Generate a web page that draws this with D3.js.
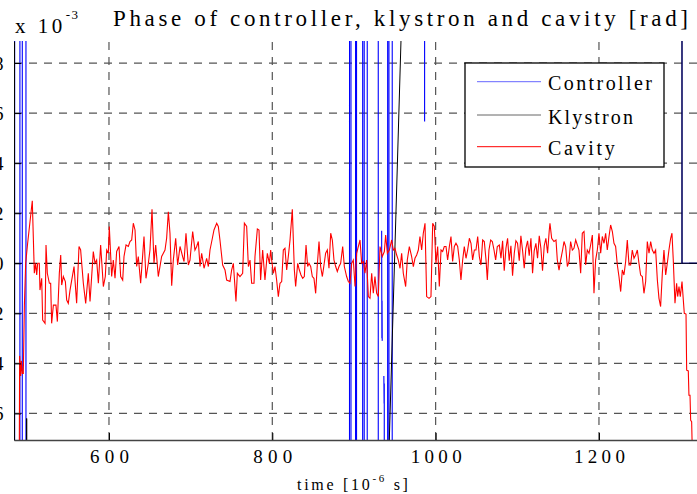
<!DOCTYPE html>
<html><head><meta charset="utf-8">
<script src="https://cdn.jsdelivr.net/npm/d3@7"></script>
<style>
body{margin:0;background:#fff}
svg{display:block;background:#fff}
text{font-family:"Liberation Serif","DejaVu Serif","Times New Roman",serif;fill:#000}
</style>
</head><body><div id="chart"></div>
<script>
// ---------- data (time in 1e-6 s, phase in 1e-3 rad) ----------
const xTicks = [600, 800, 1000, 1200];
const yTicks = [-6, -4, -2, 0, 2, 4, 6, 8];
const titleText = "Phase of controller, klystron and cavity [rad]";
const seriesNames = ["Controller", "Klystron", "Cavity"];
const seriesColors = ["#0000ff", "#000000", "#ff0000"];

const controller = [[483.5,50],[483.7,-50],[484.4,-50],[484.6,50],[490.9,50],[491.0,-50],[493.8,-50],[493.9,50],[498.3,50],[498.4,-50],
[894.5,-50],[894.6,50],[896.3,50],[896.4,-50],[901.9,-50],[902.0,50],[903.1,50],[903.2,-50],[910.6,-50],[910.7,50],[912.5,50],[912.6,-50],
[916.2,-50],[916.3,50],[929.7,50],[929.8,-50],[930.0,null],[933.9,1.3],[934.2,-3.0],[934.4,-1.5],[934.6,-3.1],[935.0,null],
[936.6,-4.5],[936.9,-5.6],[937.1,-4.8],[937.4,-50],[941.2,-50],[941.3,50],[942.8,50],[942.9,-50],[946.8,-50],[946.9,50],
[986.4,50],[986.5,5.66],[986.6,50],[1301.6,50],[1301.7,0],[1400,0]];

const klystron = [[483.7,-50],[499.0,-50],[499.2,-6.2],[499.4,-50],[935.0,-16.3],[966.0,18.3],[1301.6,50],[1301.7,0],[1400,0]];

const cavity = [[490.2,-7.5],[490.6,-3.7],[491.9,-4.5],[492.7,-3.9],[493.9,-4.4],[495.1,-4.4],[496.4,-1.7],[498.0,0.0],[500.4,0.8],[506.1,2.5],[508.6,-0.4],[510.2,0],
[511.5,-0.47],[512.7,0],[514.7,0],[515.5,-1.07],[517.6,-0.6],[518.8,-2.27],[521.7,-2.4],[522.9,0.73],[524.5,-0.4],[527.0,-0.8],[528.6,-0.8],[529.8,-2.4],[531.9,-1.67],[535.1,-1.67],[536.8,-2.33],[539.2,-0.4],[540.9,0.33],[542.1,-0.87],[544.1,-0.53],[546.6,-0.73],[548.2,-1.47],[550.2,-1.6],[552.3,-1.07],[557.2,-0.13],[560.4,-1.6],[563.3,0.67],[565.3,0.53],[568.6,-0.8],[571.5,-1.6],[574.7,-0.4],[576.8,-1.53],[580.8,0.47],[582.9,0],[584.9,0.13],[587.0,-0.8],[589.8,0.73],[593.1,-0.93],[595.5,-0.53],[597.2,0.53],[599.2,0.4],[600.4,1.47],[603.3,-0.53],[605.3,0.13],[607.4,-0.6],[609.4,0.47],[612.3,0.67],[614.3,-0.53],[616.8,-0.67],[618.4,0.27],[620.9,0.73],[623.7,0.67],[625.7,0.87],[627.8,0.93],[629.8,1.6],[631.9,1.33],[633.9,-0.13],[635.9,0.27],[638.8,-0.8],[642.9,1.07],[645.3,-0.6],[648.2,0],[650.2,0.53],[652.7,2.16],[655.1,0],[657.2,0.73],[660.4,-0.53],[664.5,0.27],[668.6,0.53],[670.6,1.0],[672.7,2.06],[674.7,1.2],[676.8,-0.9],[678.8,0.13],[681.7,1.0],[684.1,-0.07],[687.0,0.67],[690.2,0.27],[691.9,0.07],[694.3,1.2],[697.2,-0.07],[699.2,0.13],[702.5,1.27],[705.3,0.53],[707.4,0.67],[709.4,0.87],[711.5,-0.13],[713.5,0.4],[716.4,-0.2],[719.6,0.2],[721.7,-0.13],[723.7,0.53],[726.6,1.0],[728.6,1.33],[731.9,1.6],[733.9,1.47],[735.9,0.93],[739.2,-0.07],[742.1,-0.27],[744.1,-0.67],[748.2,-0.73],[750.2,-0.27],[752.3,0],[755.5,-1.53],[757.2,-0.4],[760.4,-0.53],[763.7,-0.4],[765.8,1.6],[768.6,1.47],[770.7,-0.13],
[772.7,0.13],[774.7,-0.8],[777.6,-0.8],[778.8,0.27],[781.7,1.37],[783.7,1.33],[785.7,-0.67],[788.2,0.53],[791.0,-0.67],[793.9,0.4],[796.4,0],[798.0,0.53],[799.2,0.13],[801.3,-0.4],[803.3,-0.13],[805.3,-0.67],[807.4,-1.33],[809.4,-0.8],[811.5,-0.73],[813.5,0.53],[815.5,0.6],[817.6,-0.27],[819.6,0.27],[821.7,0.93],[824.5,2.16],[827.0,-0.27],[828.6,-0.93],[831.1,0],[833.1,-0.27],[835.1,-0.47],[837.2,-0.6],[839.2,-0.53],[841.3,0.73],[843.3,-0.13],[844.9,0],[847.0,-0.13],[849.0,-0.53],[851.0,-0.6],[853.1,-1.2],[855.1,-0.07],[857.2,0.87],[859.2,-0.13],[861.3,-0.53],[863.3,-0.07],[865.3,0.4],[867.4,0.53],[869.4,-0.2],[871.5,1.2],[873.5,0.93],[875.5,0.13],[877.6,-0.13],[879.6,-0.33],[881.7,-0.13],[883.7,0],[886.2,0.67],[888.2,-0.13],[891.0,-0.53],[893.1,-0.73],[895.1,-0.8],[897.2,0],[899.2,0.13],[901.3,-0.93],[903.3,0.4],[905.3,0.67],[907.4,0.93],[909.4,0],[911.5,0.07],[913.5,-0.4],[915.5,0.13],[917.6,-1.33],[919.6,-1.4],[921.7,-0.4],[923.7,-1.2],[925.7,-0.53],[927.8,-1.2],[929.8,-1.33],[931.9,0.67],[934.7,0.27],[937.2,0.47],[938.8,1.13],[940.9,0.4],[943.3,0.53],[946.2,0.93],[948.2,0.53],[950.2,0.6],[952.3,0.33],[954.3,0.13],[956.4,-0.2],[958.4,0.4],[960.4,-0.4],[963.3,-0.93],[965.3,0.13],[967.8,0.67],[970.6,0.27],[972.7,-0.13],[974.7,0.2],[976.8,0.33],[978.8,0.53],[980.8,1.07],[982.9,0.53],[984.9,1.2],[987.0,1.6],[989.0,-1.33],[991.9,-1.4],[994.3,-1.33],[996.4,1.6],[998.4,1.47],[1000.4,0],[1002.5,0.67],[1004.5,-0.93],[1006.6,0.53],[1008.6,0.47],[1010.6,0.67],[1012.7,0.67],[1014.7,0.13],[1016.8,0.67],[1018.8,1.07],[1020.8,0.07],[1022.9,0.67],[1024.9,0.8],[1027.0,0.67],[1029.0,0.13],[1031.0,-0.67],[1033.1,0.13],[1035.1,0.67],[1037.2,0.2],[1039.2,0.53],[1041.3,1.0],[1043.3,0.8],[1045.3,0.13],[1047.4,0.53],[1049.4,0.53],[1051.5,1.07],[1053.5,0.27],[1055.5,-0.07],[1057.6,0.93],[1059.6,0.87],[1061.7,0.13],[1063.3,-0.67],[1065.3,0.53],[1067.4,0.93],[1069.4,0.87],[1071.5,0.53],[1073.5,0.13],[1075.5,0.67],[1078.0,0.73],
[1080.0,0.2],[1082.0,0.9],[1084.0,-0.3],[1086.1,0.6],[1088.1,1.0],[1090.1,0.1],[1092.2,0.7],[1094.2,-0.5],[1096.3,0.4],[1098.3,0.9],[1100.3,0.8],[1102.4,0.1],[1104.4,1.1],[1106.5,0.5],[1108.5,-0.2],[1110.5,0.6],[1112.6,0.9],[1114.6,0.3],[1116.7,1.0],[1118.7,-0.4],[1120.7,0.5],[1122.8,0.8],[1124.8,0.2],[1126.9,1.1],[1128.9,0.6],[1130.9,-0.3],[1133.0,0.7],[1135.0,1.0],[1137.1,0.4],[1139.1,1.3],
[1140.0,1.6],[1142.1,1.0],[1144.9,0.87],[1147.4,0.93],[1149.0,0.13],[1151.1,-0.27],[1153.1,0.13],[1155.5,0.53],[1157.2,0.87],[1159.2,0.67],[1161.3,-0.13],[1163.3,0.07],[1165.3,0.87],[1167.4,0.53],[1169.4,0.6],[1171.5,0.93],[1173.5,0.73],[1175.5,0.53],[1177.6,-0.4],[1179.6,1.2],[1181.7,1.27],[1183.7,-0.07],[1185.7,0.53],[1187.8,0.4],[1189.8,0.73],[1191.9,1.13],[1193.9,-1.2],[1195.9,0.13],[1198.0,0.53],[1200.0,1.2],[1202.1,0.4],[1204.1,1.07],[1206.2,0.8],[1208.2,1.2],[1210.2,0.53],[1212.3,1.07],[1214.3,1.53],[1216.4,1.27],[1218.4,0.8],[1220.4,0.67],[1222.5,-0.07],[1224.5,-0.53],[1226.6,-1.13],[1228.6,-0.27],[1230.6,-0.47],[1232.7,0.07],[1234.7,0.93],[1236.8,-0.07],[1238.8,-0.07],[1240.8,0.53],[1242.9,0.2],[1244.9,0.33],[1247.0,0.53],[1249.0,0],[1251.0,-0.47],[1253.1,-0.53],[1255.1,-1.2],[1257.2,-0.73],[1259.2,0.87],[1261.3,0.4],[1263.3,0.87],[1265.3,0.53],[1267.4,0.4],[1269.4,0.53],[1271.5,-0.67],[1273.5,-1.4],[1275.5,-1.73],[1277.6,-0.4],[1279.6,0.53],[1281.7,-0.47],[1283.7,0],[1285.7,0.53],[1287.8,1.0],[1289.4,1.2],[1291.0,0.13],[1293.1,-1.6],[1295.1,-0.8],[1296.4,-1.33],[1298.0,-0.93],[1299.6,-1.33],[1301.7,-0.73],[1303.3,-1.47],[1304.5,-2.0],[1306.6,-2.03],[1307.4,-4.27],[1309.4,-4.3],[1310.2,-5.27],[1311.5,-5.27],[1312.3,-6.27],[1313.5,-6.33],[1314.3,-7.5]];

// ---------- layout ----------
const W = 697, H = 494;
const L = 14, R = 760, T = 41, B = 440;
const FONT = '"Liberation Serif","DejaVu Serif",serif';
const svg = d3.select("#chart").append("svg").attr("width", W).attr("height", H);

const x = d3.scaleLinear().domain([483.7, 1397.2]).range([L, R]);
const y = d3.scaleLinear().domain([-7.06, 8.88]).range([B, T]);

svg.append("defs").append("clipPath").attr("id", "plot")
  .append("rect").attr("x", L).attr("y", T).attr("width", R - L).attr("height", B - T);

// grid
const grid = svg.append("g").attr("stroke", "#555").attr("stroke-width", 1.2).attr("stroke-dasharray", "8,7").attr("fill", "none");
grid.selectAll(".gy").data(yTicks).join("line")
  .attr("x1", L).attr("x2", R).attr("y1", d => y(d)).attr("y2", d => y(d))
  .attr("stroke", d => d === 0 ? "#111" : "#555");
grid.selectAll(".gx").data(xTicks).join("line")
  .attr("x1", d => x(d)).attr("x2", d => x(d)).attr("y1", B).attr("y2", T);

// series
const line = d3.line().defined(d => d[1] !== null).x(d => x(d[0])).y(d => y(d[1]));
const plot = svg.append("g").attr("clip-path", "url(#plot)").attr("fill", "none");
[controller, klystron, cavity].forEach((s, i) => {
  plot.append("path").datum(s).attr("d", line)
    .attr("stroke", seriesColors[i]).attr("stroke-width", i === 1 ? 1 : 1.1);
});

// axes
const xAxis = d3.axisBottom(x).tickValues(xTicks).tickFormat(d3.format("d"))
  .tickSize(-7).tickSizeOuter(0).tickPadding(9.5);
const gx = svg.append("g").attr("transform", `translate(0,${B})`).call(xAxis);
gx.attr("font-family", FONT);
gx.select(".domain").attr("stroke", "#444").attr("stroke-width", 1.6);
gx.selectAll(".tick line").attr("stroke", "#000");
gx.selectAll(".tick text").attr("font-size", 19).attr("font-family", FONT)
  .attr("textLength", d => d >= 1000 ? 51 : 39).attr("lengthAdjust", "spacing");

const yAxis = d3.axisLeft(y).tickValues(yTicks).tickFormat(d3.format("d"))
  .tickSize(-7).tickSizeOuter(0).tickPadding(10.5);
const gy = svg.append("g").attr("transform", `translate(${L},0)`).call(yAxis);
gy.attr("font-family", FONT);
gy.select(".domain").attr("stroke", "#000").attr("stroke-width", 1);
gy.selectAll(".tick line").attr("stroke", "#000");
gy.selectAll(".tick text").attr("font-size", 19).attr("font-family", FONT);

// title
svg.append("text").attr("x", 113).attr("y", 26).attr("font-size", 23).attr("font-family", FONT)
  .attr("textLength", 575).attr("lengthAdjust", "spacing").text(titleText);

// exponent label
const ex = svg.append("text").attr("x", 15).attr("y", 33).attr("font-size", 21)
  .attr("font-family", FONT).attr("letter-spacing", 3.5);
ex.append("tspan").text("x 10");
ex.append("tspan").attr("font-size", 13).attr("dy", -14).attr("letter-spacing", 1.5).text("-3");

// x label
const xl = svg.append("text").attr("x", 297).attr("y", 490).attr("font-size", 16)
  .attr("font-family", FONT).attr("letter-spacing", 2.7);
xl.append("tspan").text("time [10");
xl.append("tspan").attr("font-size", 11).attr("dy", -8).text("-6");
xl.append("tspan").attr("dy", 8).text(" s]");

// legend
const lg = svg.append("g");
lg.append("rect").attr("x", 465).attr("y", 63).attr("width", 199).attr("height", 104)
  .attr("fill", "#fff").attr("stroke", "#000").attr("stroke-width", 1.3);
const lys = [81.7, 115, 146.7];
const lw = [104, 85, 66.7];
seriesNames.forEach((n, i) => {
  lg.append("line").attr("x1", 477).attr("x2", 541).attr("y1", lys[i]).attr("y2", lys[i])
    .attr("stroke", seriesColors[i]).attr("stroke-width", 1).attr("stroke-opacity", i === 2 ? 1 : 0.6);
  lg.append("text").attr("x", 548).attr("y", lys[i] + 8.5).attr("font-size", 20).attr("font-family", FONT)
    .attr("textLength", lw[i]).attr("lengthAdjust", "spacing").text(n);
});
</script>
</body></html>
